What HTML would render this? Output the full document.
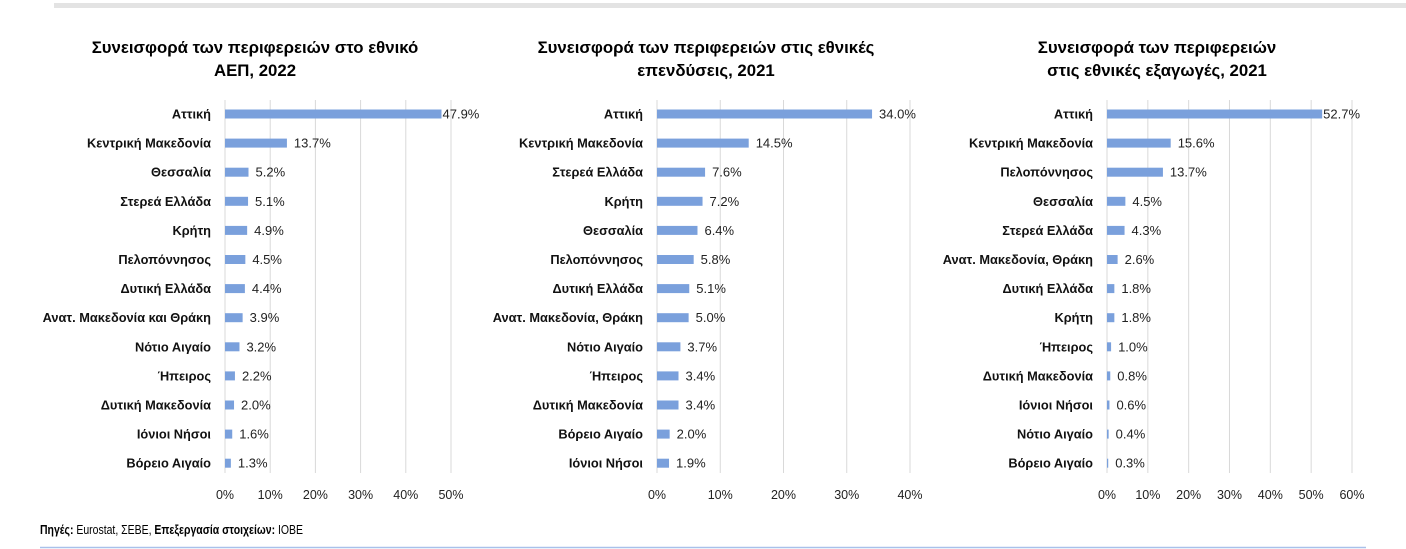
<!DOCTYPE html>
<html><head><meta charset="utf-8"><style>
html,body{margin:0;padding:0;background:#fff;}
svg{display:block;font-family:"Liberation Sans",sans-serif;}
</style></head><body>
<svg width="1406" height="549" xmlns="http://www.w3.org/2000/svg">
<rect x="54" y="3" width="1352" height="5" fill="#e3e3e3"/>
<line x1="40" y1="547.5" x2="1366" y2="547.5" stroke="#a9c1ea" stroke-width="1.5"/>
<text x="40" y="534" font-size="12.5" fill="#000" textLength="263" lengthAdjust="spacingAndGlyphs"><tspan font-weight="bold">Πηγές:</tspan> Eurostat, ΣΕΒΕ, <tspan font-weight="bold">Επεξεργασία στοιχείων:</tspan> ΙΟΒΕ</text>
<g id="charts"></g>
</svg>
<script>
const charts=[
{cx:255,t:["Συνεισφορά των περιφερειών στο εθνικό","ΑΕΠ, 2022"],x0:225,pp:4.52,max:50,lx:211,
d:[["Αττική",47.9],["Κεντρική Μακεδονία",13.7],["Θεσσαλία",5.2],["Στερεά Ελλάδα",5.1],["Κρήτη",4.9],["Πελοπόννησος",4.5],["Δυτική Ελλάδα",4.4],["Ανατ. Μακεδονία και Θράκη",3.9],["Νότιο Αιγαίο",3.2],["Ήπειρος",2.2],["Δυτική Μακεδονία",2.0],["Ιόνιοι Νήσοι",1.6],["Βόρειο Αιγαίο",1.3]]},
{cx:706,t:["Συνεισφορά των περιφερειών στις εθνικές","επενδύσεις, 2021"],x0:657,pp:6.325,max:40,lx:643,
d:[["Αττική",34.0],["Κεντρική Μακεδονία",14.5],["Στερεά Ελλάδα",7.6],["Κρήτη",7.2],["Θεσσαλία",6.4],["Πελοπόννησος",5.8],["Δυτική Ελλάδα",5.1],["Ανατ. Μακεδονία, Θράκη",5.0],["Νότιο Αιγαίο",3.7],["Ήπειρος",3.4],["Δυτική Μακεδονία",3.4],["Βόρειο Αιγαίο",2.0],["Ιόνιοι Νήσοι",1.9]]},
{cx:1157,t:["Συνεισφορά των περιφερειών","στις εθνικές εξαγωγές, 2021"],x0:1107,pp:4.083,max:60,lx:1093,
d:[["Αττική",52.7],["Κεντρική Μακεδονία",15.6],["Πελοπόννησος",13.7],["Θεσσαλία",4.5],["Στερεά Ελλάδα",4.3],["Ανατ. Μακεδονία, Θράκη",2.6],["Δυτική Ελλάδα",1.8],["Κρήτη",1.8],["Ήπειρος",1.0],["Δυτική Μακεδονία",0.8],["Ιόνιοι Νήσοι",0.6],["Νότιο Αιγαίο",0.4],["Βόρειο Αιγαίο",0.3]]}];
let s="";
for(const c of charts){
 s+=`<text x="${c.cx}" y="53" font-size="16.8" font-weight="bold" text-anchor="middle">${c.t[0]}</text>`;
 s+=`<text x="${c.cx}" y="76" font-size="16.8" font-weight="bold" text-anchor="middle">${c.t[1]}</text>`;
 for(let v=0;v<=c.max;v+=10){const x=c.x0+v*c.pp;
  s+=`<line x1="${x}" y1="100" x2="${x}" y2="473" stroke="#d9d9d9" stroke-width="1"/>`;
  s+=`<text x="${x}" y="499" font-size="12.5" text-anchor="middle" fill="#222">${v}%</text>`;}
 c.d.forEach((r,i)=>{const y=114+i*29.1;const w=r[1]*c.pp;
  s+=`<rect x="${c.x0}" y="${y-4.5}" width="${w}" height="9" fill="#7aa0dc"/>`;
  s+=`<text x="${c.lx}" y="${y+4.5}" font-size="12.8" font-weight="bold" text-anchor="end" fill="#111">${r[0]}</text>`;
  s+=`<text x="${c.x0+w+(r[1]>45?1:7)}" y="${y+4.5}" font-size="13" fill="#222">${r[1].toFixed(1)}%</text>`;});
}
document.getElementById("charts").innerHTML=s;
</script>
</body></html>
